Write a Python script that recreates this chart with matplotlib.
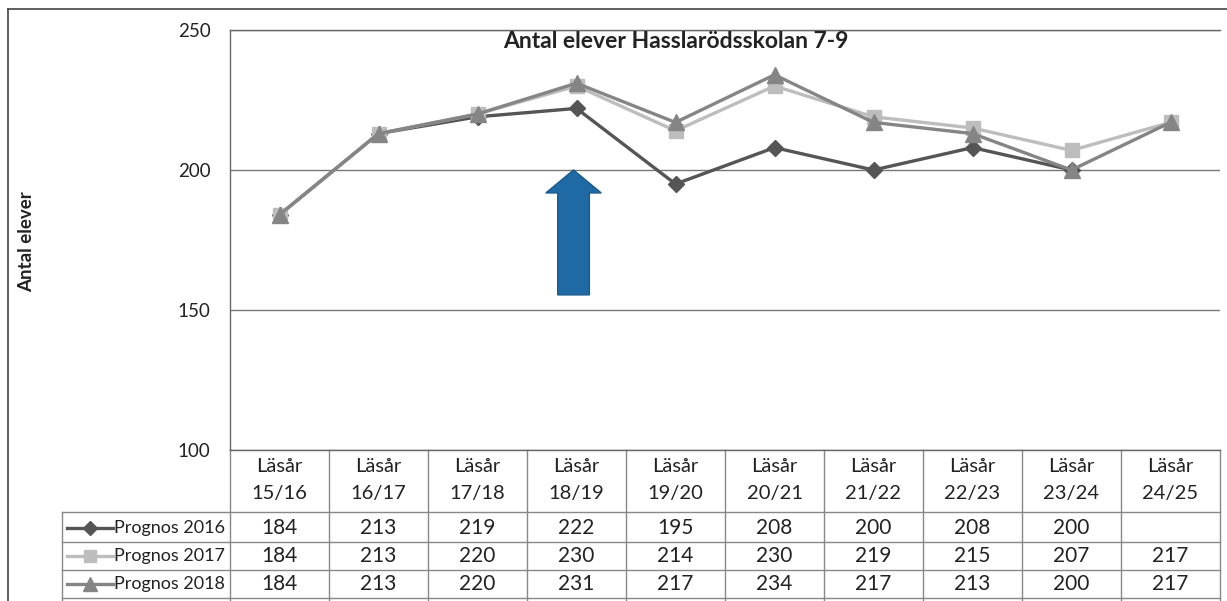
import numpy as np
import matplotlib
matplotlib.use('Agg')
from matplotlib import pyplot as plt
from matplotlib.lines import Line2D
from matplotlib.patches import FancyArrow
from matplotlib.transforms import blended_transform_factory

plt.rcParams['font.family'] = ['Lato', 'DejaVu Sans']

# dati
lasar = ['15/16', '16/17', '17/18', '18/19', '19/20', '20/21', '21/22', '22/23', '23/24', '24/25']
prognos_2016 = [184, 213, 219, 222, 195, 208, 200, 208, 200, np.nan]
prognos_2017 = [184, 213, 220, 230, 214, 230, 219, 215, 207, 217]
prognos_2018 = [184, 213, 220, 231, 217, 234, 217, 213, 200, 217]
serie_namn = ['Prognos 2016', 'Prognos 2017', 'Prognos 2018']
y_ticks = [100, 150, 200, 250]
pil_lasar = '18/19'

W, H = 1227, 601
def fx(px): return px / W
def fy(py): return 1 - py / H

fig = plt.figure(figsize=(W / 100, H / 100), dpi=100, facecolor='w')
ax = fig.add_axes([fx(230), fy(450), 990 / W, 420 / H])

serie = [prognos_2016, prognos_2017, prognos_2018]
colori = ['#555555', '#bdbdbd', '#858585']
marker = ['D', 's', '^']
msize = [8, 10, 11]

x = np.arange(len(lasar))
for s, c, m, ms in zip(serie, colori, marker, msize):
    ax.plot(x, s, color=c, lw=2.4, marker=m, markersize=ms, markeredgecolor=c)

ax.set_xlim(-0.5, len(lasar) - 0.5)
ax.set_ylim(100, 250)
ax.set_yticks(y_ticks)
ax.set_xticks([])
ax.tick_params(axis='y', length=0, pad=14, labelsize=13.5, labelcolor='#222222')
ax.yaxis.grid(True, color='#777777', lw=1)
ax.set_axisbelow(True)
for k in ['right']:
    ax.spines[k].set_visible(False)
for k in ['left', 'top', 'bottom']:
    ax.spines[k].set_color('#666666')
    ax.spines[k].set_linewidth(1)

# freccia blu
xa = lasar.index(pil_lasar)
freccia = FancyArrow(xa - 0.03, 155.4, 0, 44.6, width=0.32, head_width=0.56, head_length=8.2,
                     length_includes_head=True, facecolor='#1f6aa5', edgecolor='#1a5b8e', lw=1)
ax.add_patch(freccia)

fig.text(fx(676), fy(42), 'Antal elever Hasslarödsskolan 7-9', ha='center', va='center',
         fontsize=16.5, fontweight='bold', color='#222222')
fig.text(fx(27), fy(242), 'Antal elever', rotation=90, ha='center', va='center',
         fontsize=13.5, fontweight='bold', color='#222222')

# cornice esterna
fig.add_artist(Line2D([fx(8), fx(8)], [fy(9), fy(601)], color='#444444', lw=1.2))
fig.add_artist(Line2D([fx(8), fx(1227)], [fy(9), fy(9)], color='#444444', lw=1.2))

################################
#           tabella            #
################################
tr = blended_transform_factory(ax.transData, fig.transFigure)
gcol = '#888888'
righe = [512, 542, 570, 598]
for i in range(len(lasar) + 1):
    ax.add_artist(Line2D([i - 0.5, i - 0.5], [fy(450), fy(601)], transform=tr, color=gcol, lw=1, clip_on=False))
for py in righe:
    fig.add_artist(Line2D([fx(62), fx(1220)], [fy(py), fy(py)], color=gcol, lw=1))
fig.add_artist(Line2D([fx(62), fx(62)], [fy(512), fy(601)], color=gcol, lw=1))

for i, l in enumerate(lasar):
    ax.text(i, fy(467), 'Läsår', transform=tr, ha='center', va='center', fontsize=14.5, color='#222222')
    ax.text(i, fy(494), l, transform=tr, ha='center', va='center', fontsize=14.5, color='#222222')

centri = [528, 556, 584]
for s, nome, c, m, ms, py in zip(serie, serie_namn, colori, marker, msize, centri):
    fig.add_artist(Line2D([fx(67), fx(113)], [fy(py), fy(py)], color=c, lw=2.4))
    fig.add_artist(Line2D([fx(90)], [fy(py)], color=c, marker=m, markersize=ms - 1, markeredgecolor=c))
    fig.text(fx(114), fy(py), nome, ha='left', va='center', fontsize=13, color='#222222')
    for i, v in enumerate(s):
        if not np.isnan(v):
            ax.text(i, fy(py), '%d' % v, transform=tr, ha='center', va='center', fontsize=15, color='#222222')

fig.savefig('out.png', dpi=100)
